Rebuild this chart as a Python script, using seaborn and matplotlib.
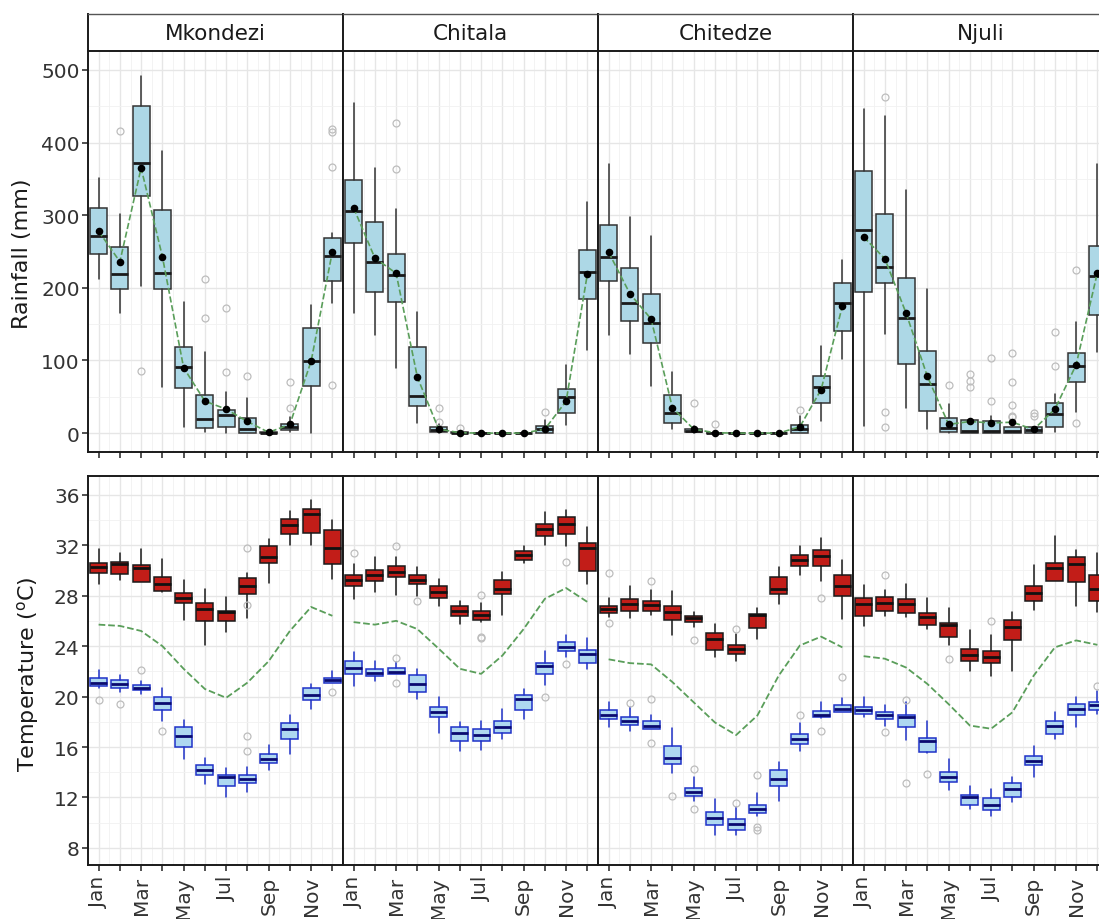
import matplotlib
matplotlib.use("Agg")
import matplotlib.pyplot as plt
import seaborn as sns

# ---- data ----
stations = ["Mkondezi", "Chitala", "Chitedze", "Njuli"]
months = list(range(1, 13))
month_labels = ["Jan", "", "Mar", "", "May", "", "Jul", "", "Sep", "", "Nov", ""]

# rainfall (mm): box stats per month
rain_q1 = {
    "Mkondezi": [247, 198, 326, 198, 62, 7, 8, 0, 0, 4, 65, 210],
    "Chitala": [262, 194, 181, 37, 2, 0, 0, 0, 0, 0, 27, 185],
    "Chitedze": [210, 155, 124, 14, 1, 0, 0, 0, 0, 0, 42, 141],
    "Njuli": [194, 207, 95, 31, 2, 0, 0, 0, 0, 8, 71, 163],
}
rain_med = {
    "Mkondezi": [271, 219, 372, 220, 91, 20, 25, 5, 0.5, 8, 99, 244],
    "Chitala": [306, 235, 217, 51, 4.5, 0, 0, 0, 0, 5.5, 50, 222],
    "Chitedze": [242, 179, 151, 27, 3, 0, 0, 0, 0, 5.5, 64, 179],
    "Njuli": [280, 228, 158, 67, 7, 3, 3, 3, 4, 26, 93, 216],
}
rain_q3 = {
    "Mkondezi": [310, 256, 450, 307, 119, 53, 32, 21, 2, 12.5, 145, 269],
    "Chitala": [348, 290, 247, 119, 8, 1, 0, 0, 0, 10, 61, 252],
    "Chitedze": [286, 227, 192, 53, 5, 0.5, 0, 0, 0, 11.5, 79, 206],
    "Njuli": [361, 301, 214, 113, 21, 18, 17, 8, 8, 41, 110, 257],
}
rain_lo = {
    "Mkondezi": [212, 166, 203, 64, 8, 1, 0, 0, 0, 2, 0, 179],
    "Chitala": [166, 135, 89, 14, 0, 0, 0, 0, 0, 0, 11.5, 114],
    "Chitedze": [135, 109, 65, 5.5, 0, 0, 0, 0, 0, 0, 16, 102],
    "Njuli": [10, 137, 34, 5.5, 0, 0, 0, 0, 0, 1, 29, 111],
}
rain_hi = {
    "Mkondezi": [351, 302, 491, 389, 181, 112, 57, 48, 3, 22, 176, 275],
    "Chitala": [454, 365, 309, 167, 12, 2, 0, 0, 0, 18, 94, 318],
    "Chitedze": [371, 297, 271, 84, 10, 1, 0, 0, 0, 24, 120, 238],
    "Njuli": [446, 436, 335, 199, 40, 18, 24, 8, 8, 54, 153, 370],
}
rain_mean = {
    "Mkondezi": [278, 236, 365, 243, 90, 44, 33, 16, 1, 12, 99, 250],
    "Chitala": [310, 241, 220, 77, 5.5, 0.5, 0, 0, 0, 5.5, 44, 219],
    "Chitedze": [249, 192, 157, 35, 5.5, 0.5, 0, 0, 0, 8.7, 60, 175],
    "Njuli": [270, 240, 165, 78, 12, 16, 14, 15, 5, 33, 94, 221],
}
rain_out = {
    "Mkondezi": {2: [416], 3: [86], 6: [212, 158], 7: [172, 84], 8: [79],
                 10: [70, 34], 12: [415, 418, 367, 66]},
    "Chitala": {3: [427, 363], 5: [35, 15.6], 6: [6.4], 10: [28.5]},
    "Chitedze": {5: [41], 6: [12], 10: [32]},
    "Njuli": {2: [462, 29, 8.7], 5: [66.6], 6: [81, 72, 63], 7: [104, 44.5],
              8: [110, 70, 38.6, 24, 21.6], 9: [28, 24], 10: [139.6, 92.7],
              11: [225, 13.3]},
}

# maximum temperature (deg C)
tmax_q1 = {
    "Mkondezi": [29.8, 29.7, 29.1, 28.4, 27.4, 26.0, 26.0, 28.1, 30.6, 32.9, 33.0, 30.5],
    "Chitala": [28.75, 29.15, 29.45, 28.9, 27.85, 26.35, 26.1, 28.15, 30.8, 32.7, 32.9, 29.95],
    "Chitedze": [26.6, 26.8, 26.8, 26.1, 25.9, 23.7, 23.35, 25.45, 28.1, 30.35, 30.35, 28.0],
    "Njuli": [26.35, 26.8, 26.6, 25.7, 24.75, 22.85, 22.65, 24.45, 27.55, 29.15, 29.05, 27.55],
}
tmax_med = {
    "Mkondezi": [30.3, 30.5, 30.2, 28.9, 27.8, 26.9, 26.7, 28.8, 31.1, 33.6, 34.5, 31.8],
    "Chitala": [29.2, 29.6, 29.9, 29.25, 28.3, 26.8, 26.5, 28.5, 31.2, 33.25, 33.7, 31.75],
    "Chitedze": [26.9, 27.3, 27.25, 26.7, 26.2, 24.55, 23.8, 26.5, 28.5, 30.8, 31.15, 28.75],
    "Njuli": [27.35, 27.4, 27.3, 26.3, 25.65, 23.3, 23.1, 25.5, 28.2, 30.15, 30.5, 28.5],
}
tmax_q3 = {
    "Mkondezi": [30.6, 30.7, 30.4, 29.5, 28.2, 27.4, 26.8, 29.4, 31.9, 34.1, 34.9, 33.2],
    "Chitala": [29.6, 30.0, 30.35, 29.6, 28.75, 27.2, 26.75, 29.25, 31.55, 33.7, 34.2, 32.2],
    "Chitedze": [27.2, 27.7, 27.6, 27.2, 26.4, 25.05, 24.1, 26.55, 29.5, 31.2, 31.6, 29.6],
    "Njuli": [27.8, 27.9, 27.75, 26.6, 25.85, 23.75, 23.65, 26.1, 28.75, 30.6, 31.1, 29.65],
}
tmax_lo = {
    "Mkondezi": [28.9, 29.2, 29.1, 28.3, 26.1, 24.1, 25.1, 26.2, 29.0, 32.0, 32.0, 29.3],
    "Chitala": [27.75, 28.25, 28.05, 28.0, 27.15, 25.75, 25.9, 26.5, 30.55, 32.05, 31.9, 28.9],
    "Chitedze": [26.3, 26.2, 26.5, 24.9, 25.5, 23.15, 22.85, 24.6, 27.35, 29.6, 29.15, 26.15],
    "Njuli": [25.6, 26.4, 26.3, 25.35, 24.05, 22.05, 21.65, 22.05, 26.85, 29.15, 27.2, 26.7],
}
tmax_hi = {
    "Mkondezi": [31.7, 31.4, 31.7, 30.9, 29.2, 28.5, 27.9, 29.8, 32.5, 34.7, 35.6, 34.0],
    "Chitala": [30.5, 31.05, 31.1, 30.25, 29.35, 27.6, 27.45, 29.9, 31.95, 34.65, 34.75, 33.45],
    "Chitedze": [27.8, 28.8, 28.45, 28.35, 26.7, 25.75, 24.95, 27.0, 30.25, 31.95, 32.55, 30.85],
    "Njuli": [28.85, 28.45, 28.95, 27.8, 27.0, 25.3, 24.9, 26.7, 30.45, 32.75, 31.6, 31.4],
}
tmax_out = {
    "Mkondezi": {8: [31.75, 27.25]},
    "Chitala": {1: [31.35], 3: [31.9], 4: [27.55], 7: [28.05, 24.75, 24.65], 11: [30.7]},
    "Chitedze": {1: [29.8, 25.85], 3: [29.15], 5: [24.5], 7: [25.35], 11: [27.85]},
    "Njuli": {2: [29.6], 5: [23.0], 7: [26.0]},
}

# minimum temperature (deg C)
tmin_q1 = {
    "Mkondezi": [20.8, 20.65, 20.55, 18.9, 16.0, 13.8, 12.95, 13.15, 14.75, 16.65, 19.7, 21.1],
    "Chitala": [21.75, 21.6, 21.75, 20.4, 18.35, 16.45, 16.5, 17.15, 18.95, 21.75, 23.6, 22.65],
    "Chitedze": [18.2, 17.75, 17.4, 14.65, 12.15, 9.85, 9.4, 10.75, 12.95, 16.25, 18.35, 18.75],
    "Njuli": [18.6, 18.2, 17.55, 15.6, 13.25, 11.4, 11.0, 12.0, 14.55, 17.0, 18.55, 18.9],
}
tmin_med = {
    "Mkondezi": [21.1, 21.0, 20.7, 19.5, 16.85, 14.2, 13.6, 13.5, 15.05, 17.4, 20.1, 21.3],
    "Chitala": [22.3, 21.85, 21.95, 21.0, 18.75, 17.15, 16.95, 17.6, 19.8, 22.45, 23.9, 23.35],
    "Chitedze": [18.55, 18.1, 17.7, 15.1, 12.45, 10.4, 9.9, 11.1, 13.5, 16.65, 18.55, 19.05],
    "Njuli": [18.95, 18.55, 18.35, 16.45, 13.6, 12.05, 11.4, 12.7, 14.9, 17.7, 19.0, 19.3],
}
tmin_q3 = {
    "Mkondezi": [21.5, 21.3, 20.9, 20.0, 17.55, 14.6, 13.8, 13.8, 15.45, 17.9, 20.65, 21.5],
    "Chitala": [22.8, 22.2, 22.25, 21.7, 19.2, 17.6, 17.45, 18.05, 20.15, 22.65, 24.3, 23.7],
    "Chitedze": [18.9, 18.35, 18.05, 16.05, 12.75, 10.85, 10.3, 11.4, 14.15, 17.05, 18.85, 19.35],
    "Njuli": [19.15, 18.75, 18.55, 16.7, 14.05, 12.2, 11.95, 13.15, 15.3, 18.1, 19.4, 19.55],
}
tmin_lo = {
    "Mkondezi": [20.65, 20.35, 20.2, 18.1, 15.05, 13.05, 12.0, 12.45, 14.2, 15.45, 19.05, 21.1],
    "Chitala": [20.8, 21.2, 21.75, 19.8, 17.1, 15.7, 15.8, 16.65, 18.2, 20.95, 23.1, 22.2],
    "Chitedze": [17.6, 17.3, 17.4, 13.95, 11.7, 9.0, 9.05, 10.55, 11.75, 15.7, 18.3, 18.75],
    "Njuli": [18.4, 17.7, 16.55, 15.55, 12.6, 11.1, 10.5, 11.65, 13.6, 16.65, 17.55, 18.6],
}
tmin_hi = {
    "Mkondezi": [22.1, 21.7, 21.25, 20.65, 18.15, 15.1, 14.35, 14.45, 16.15, 18.5, 21.0, 22.05],
    "Chitala": [23.5, 22.8, 22.7, 22.2, 20.0, 18.0, 18.1, 19.0, 20.6, 23.6, 24.85, 24.65],
    "Chitedze": [19.6, 19.15, 18.5, 17.5, 13.6, 11.9, 11.25, 12.35, 14.8, 17.9, 19.6, 19.85],
    "Njuli": [19.95, 19.35, 19.55, 18.05, 15.05, 12.9, 12.7, 13.6, 16.05, 18.8, 19.95, 20.45],
}
tmin_out = {
    "Mkondezi": {1: [19.75], 2: [19.4], 3: [22.1], 4: [17.3], 8: [16.9, 15.7], 12: [20.4]},
    "Chitala": {3: [23.05, 21.1], 10: [20.0], 11: [22.55]},
    "Chitedze": {2: [19.5], 3: [19.8, 16.35], 4: [12.15], 5: [14.25, 11.05], 7: [11.6],
                 8: [13.75, 9.7, 9.4], 10: [18.5], 11: [17.3], 12: [21.55]},
    "Njuli": {2: [17.2], 3: [19.75, 13.15], 4: [13.85], 12: [20.85]},
}

# mean temperature (dashed line)
tmean = {
    "Mkondezi": [25.7, 25.6, 25.2, 24.0, 22.2, 20.6, 19.9, 21.1, 22.8, 25.2, 27.1, 26.4],
    "Chitala": [25.9, 25.7, 26.0, 25.35, 23.8, 22.2, 21.8, 23.25, 25.35, 27.75, 28.6, 27.5],
    "Chitedze": [22.95, 22.65, 22.55, 21.15, 19.55, 17.95, 16.95, 18.5, 21.65, 24.05, 24.75, 23.9],
    "Njuli": [23.2, 23.0, 22.3, 21.0, 19.4, 17.7, 17.45, 18.75, 21.65, 23.9, 24.45, 24.1],
}

GREEN = "#5a9e5a"


def draw_boxes(ax, q1, med, q3, lo, hi, out, face, edge, med_color):
    stats = []
    for i, m in enumerate(months):
        stats.append(dict(q1=q1[i], med=med[i], q3=q3[i], whislo=lo[i],
                          whishi=hi[i], fliers=out.get(m, []), label=""))
    ax.bxp(stats, positions=months, widths=0.8, patch_artist=True,
           showcaps=False, manage_ticks=False,
           boxprops=dict(facecolor=face, edgecolor=edge, linewidth=1.1),
           medianprops=dict(color=med_color, linewidth=2.0),
           whiskerprops=dict(color=edge, linewidth=1.1),
           flierprops=dict(marker="o", markerfacecolor="none",
                           markeredgecolor="#bdbdbd", markersize=5,
                           markeredgewidth=0.9),
           zorder=3)


def style_panel(ax, ylim, yticks, yminor, first, show_xlabels):
    ax.set_xlim(0.5, 12.5)
    ax.set_ylim(*ylim)
    ax.set_xticks(months)
    ax.set_xticks([m + 0.5 for m in months[:-1]], minor=True)
    ax.set_yticks(yticks)
    ax.set_yticks(yminor, minor=True)
    ax.grid(which="major", color="#e6e6e6", linewidth=1.0, zorder=0)
    ax.grid(which="minor", color="#f1f1f1", linewidth=0.6, zorder=0)
    ax.set_axisbelow(True)
    ax.tick_params(which="major", bottom=True, left=first, direction="out",
                   length=4, width=1.2, color="#333333", labelsize=14.5,
                   labelcolor="#333333", pad=2)
    ax.tick_params(which="minor", bottom=False, left=False, length=0)
    if show_xlabels:
        ax.set_xticklabels(month_labels, rotation=90)
        ax.tick_params(axis="x", pad=4)
    else:
        ax.set_xticklabels([])
    if not first:
        ax.set_yticklabels([])
    for sp in ax.spines.values():
        sp.set_color("#1a1a1a")
        sp.set_linewidth(1.4)
    ax.set_xlabel("")
    ax.set_ylabel("")


sns.set_style("white")
plt.rcParams["font.family"] = ["DejaVu Sans"]

W, H = 1099, 920
fig = plt.figure(figsize=(W / 100, H / 100), dpi=100)
fig.patch.set_facecolor("white")


def rect(x0, y0, x1, y1):
    return [x0 / W, 1 - y1 / H, (x1 - x0) / W, (y1 - y0) / H]


lefts = [88, 343, 598, 853]
pw = 255

for k, st in enumerate(stations):
    x0 = lefts[k]

    # strip header
    axs = fig.add_axes(rect(x0, 15, x0 + pw, 52))
    axs.set_xticks([])
    axs.set_yticks([])
    axs.set_facecolor("white")
    for sp in axs.spines.values():
        sp.set_color("#555555")
        sp.set_linewidth(1.0)
    axs.spines["left"].set_color("#1a1a1a")
    axs.spines["left"].set_linewidth(1.4)
    axs.text(0.5, 0.48, st, ha="center", va="center", fontsize=15.5,
             color="#1a1a1a", transform=axs.transAxes)

    # rainfall
    ax = fig.add_axes(rect(x0, 52, x0 + pw, 453))
    draw_boxes(ax, rain_q1[st], rain_med[st], rain_q3[st], rain_lo[st],
               rain_hi[st], rain_out[st], "#add8e6", "#333333", "#1a1a1a")
    sns.lineplot(x=months, y=rain_mean[st], ax=ax, color=GREEN, linestyle="--",
                 linewidth=1.2, zorder=4, legend=False)
    sns.scatterplot(x=months, y=rain_mean[st], ax=ax, color="black", s=30,
                    linewidth=0, zorder=5, legend=False)
    style_panel(ax, (-26, 526), range(0, 501, 100), range(50, 501, 100),
                k == 0, False)

    # temperature
    ax2 = fig.add_axes(rect(x0, 477, x0 + pw, 866))
    draw_boxes(ax2, tmax_q1[st], tmax_med[st], tmax_q3[st], tmax_lo[st],
               tmax_hi[st], tmax_out[st], "#c21d18", "#1a1a1a", "#111111")
    draw_boxes(ax2, tmin_q1[st], tmin_med[st], tmin_q3[st], tmin_lo[st],
               tmin_hi[st], tmin_out[st], "#aed8f0", "#1f32c8", "#0a0a70")
    sns.lineplot(x=months, y=tmean[st], ax=ax2, color=GREEN, linestyle="--",
                 linewidth=1.3, zorder=4, legend=False)
    style_panel(ax2, (6.65, 37.48), range(8, 37, 4), range(10, 37, 4),
                k == 0, True)

fig.text(22 / W, 1 - 254 / H, "Rainfall (mm)", rotation=90, ha="center",
         va="center", fontsize=16, color="#1a1a1a")
fig.text(28 / W, 1 - 674 / H, "Temperature ($^{\\mathrm{o}}$C)", rotation=90,
         ha="center", va="center", fontsize=16, color="#1a1a1a")

fig.savefig("out.png", dpi=100)
